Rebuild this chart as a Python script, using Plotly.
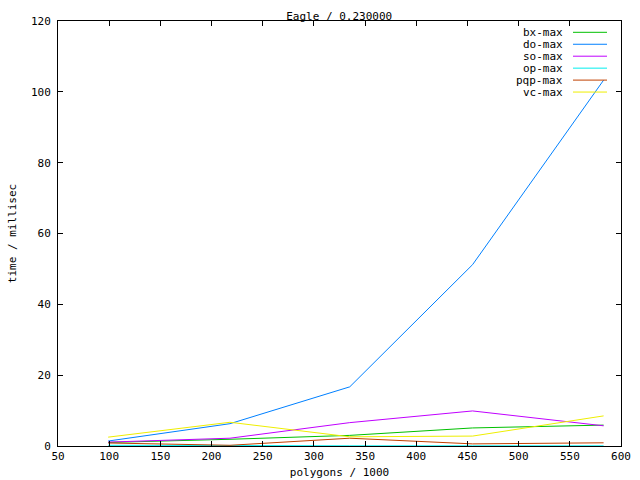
import plotly.graph_objects as go

# polygons / 1000
polygons = [99, 218, 335, 455, 583]

series_names = ["bx-max", "do-max", "so-max", "op-max", "pqp-max", "vc-max"]
bx_max = [1.0, 1.9, 3.0, 5.1, 5.9]
do_max = [1.4, 6.3, 16.7, 51.2, 103.3]
so_max = [1.1, 2.2, 6.6, 9.9, 5.7]
op_max = [0.2, 0.05, 0.05, 0.05, 0.05]
pqp_max = [0.85, 0.2, 2.2, 0.6, 0.9]
vc_max = [2.5, 6.7, 2.6, 2.8, 8.5]
series_values = [bx_max, do_max, so_max, op_max, pqp_max, vc_max]
colors = ["#00c000", "#0080ff", "#c000ff", "#00eeee", "#c04000", "#eeee00"]

x_ticks = [50, 100, 150, 200, 250, 300, 350, 400, 450, 500, 550, 600]
y_ticks = [0, 20, 40, 60, 80, 100, 120]

FONT = "DejaVu Sans Mono"

fig = go.Figure()
for name, vals, col in zip(series_names, series_values, colors):
    fig.add_trace(go.Scatter(x=polygons, y=vals, mode="lines", name=name,
                             line=dict(color=col, width=1), showlegend=False))

# gnuplot-style key: text on the left, line sample on the right
L, T, W, H = 58, 21, 563, 425
for i, (name, col) in enumerate(zip(series_names, colors)):
    ypx = 32.3 + i * 11.95
    yp = (T + H - ypx) / H
    fig.add_annotation(x=(565 - L) / W, y=yp, xref="paper", yref="paper",
                       text=name, showarrow=False, xanchor="right", yanchor="middle",
                       font=dict(family=FONT, size=11, color="black"))
    fig.add_shape(type="line", xref="paper", yref="paper",
                  x0=(573 - L) / W, x1=(607 - L) / W, y0=yp, y1=yp,
                  line=dict(color=col, width=1))

axis_common = dict(showline=True, linecolor="black", linewidth=1, mirror="ticks",
                   ticks="inside", ticklen=5, tickcolor="black", showgrid=False,
                   zeroline=False, automargin=False,
                   tickfont=dict(family=FONT, size=11, color="black"))

fig.update_layout(
    width=640, height=480,
    margin=dict(l=L, r=640 - L - W, t=T, b=480 - T - H, autoexpand=False),
    paper_bgcolor="white", plot_bgcolor="white",
    title=dict(text="Eagle / 0.230000", x=0.53, xanchor="center",
               y=1 - 16 / 480, yanchor="middle", yref="container",
               font=dict(family=FONT, size=11, color="black")),
    xaxis=dict(range=[50, 600], tickvals=x_ticks,
               title=dict(text="polygons / 1000", standoff=6,
                          font=dict(family=FONT, size=11, color="black")),
               **axis_common),
    yaxis=dict(range=[0, 120], tickvals=y_ticks, ticklabelstandoff=4,
               title=dict(text="time / millisec", standoff=12,
                          font=dict(family=FONT, size=11, color="black")),
               **axis_common),
)

fig.write_html("out.html", config={"displayModeBar": False},
               post_script="document.body.style.margin='0';document.body.style.overflow='hidden';")
